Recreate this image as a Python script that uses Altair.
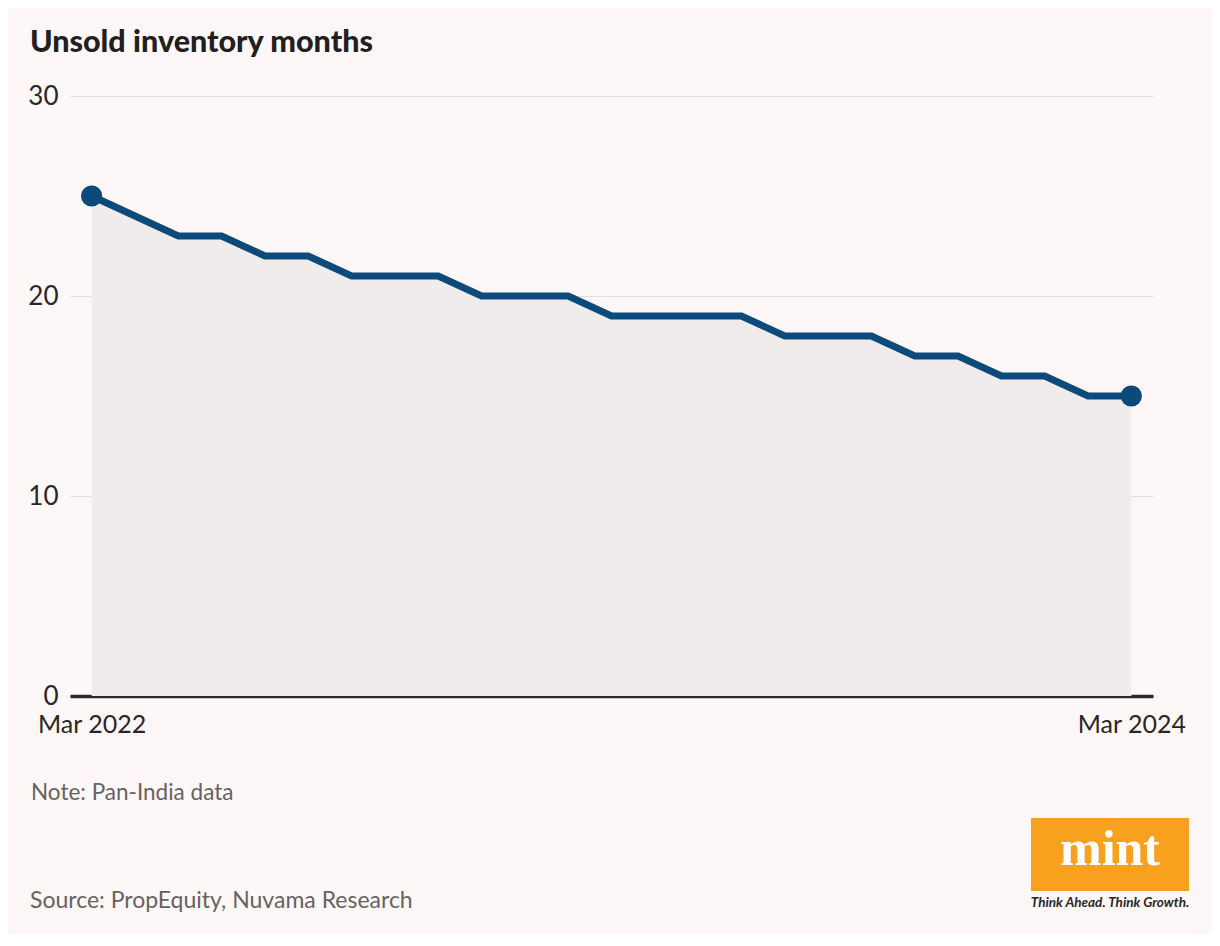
import altair as alt
import pandas as pd

months = ["Mar 2022", "Apr 2022", "May 2022", "Jun 2022", "Jul 2022", "Aug 2022",
          "Sep 2022", "Oct 2022", "Nov 2022", "Dec 2022", "Jan 2023", "Feb 2023",
          "Mar 2023", "Apr 2023", "May 2023", "Jun 2023", "Jul 2023", "Aug 2023",
          "Sep 2023", "Oct 2023", "Nov 2023", "Dec 2023", "Jan 2024", "Feb 2024",
          "Mar 2024"]
inventory = [25, 24, 23, 23, 22, 22, 21, 21, 21, 20, 20, 20, 19, 19, 19, 19,
             18, 18, 18, 17, 17, 16, 16, 15, 15]
tick_idx = [0, 24]
y_ticks = [0, 10, 20, 30]

title_text = "Unsold inventory months"
note_text = "Note: Pan-India data"
source_text = "Source: PropEquity, Nuvama Research"
logo_text = "mint"
tagline_text = "Think Ahead. Think Growth."

df = pd.DataFrame({"i": list(range(len(months))), "month": months, "v": inventory})
ends = df.iloc[[0, -1]]

FONT = "Lato"
label_expr = "datum.value == 0 ? '%s' : '%s'" % (months[0], months[-1])

x = alt.X("i:Q", scale=alt.Scale(domain=[-0.5, 24.5], nice=False, zero=False),
          axis=alt.Axis(values=tick_idx, labelExpr=label_expr, title=None, grid=False,
                        ticks=False, domain=True, domainColor="#2e2a2a", domainWidth=3.5,
                        labelFont=FONT, labelFontSize=25, labelColor="#2a2626",
                        labelPadding=16, labelFlush=False, labelAlign="center"))
y = alt.Y("v:Q", scale=alt.Scale(domain=[0, 30], nice=False),
          axis=alt.Axis(values=y_ticks, title=None, grid=True, gridColor="#e3dfde",
                        gridWidth=1.2, ticks=False, domain=False, labelFont=FONT,
                        labelFontSize=26, labelColor="#2a2626", labelPadding=12))

area = alt.Chart(df).mark_area(color="#efeceb", opacity=1).encode(x=x, y=y)
line = alt.Chart(df).mark_line(color="#0b4a7b", strokeWidth=7, strokeJoin="miter").encode(x=x, y=y)
pts = alt.Chart(ends).mark_circle(color="#0b4a7b", size=450, opacity=1).encode(x=x, y=y)

def txt(t, xv, yv, size, color, weight="normal", font=FONT, style="normal", align="left"):
    return alt.Chart(pd.DataFrame({"t": [t]})).mark_text(
        align=align, baseline="alphabetic", fontSize=size, color=color, fontWeight=weight,
        font=font, fontStyle=style).encode(text="t:N", x=alt.value(xv), y=alt.value(yv))

title = txt(title_text, -40, -44, 30.5, "#231f1f", weight=900)
note = txt(note_text, -39, 704, 22.5, "#666262")
source = txt(source_text, -40, 812, 23, "#666262")
logo_box = alt.Chart(pd.DataFrame({"a": [0]})).mark_rect(color="#f7a11e").encode(
    x=alt.value(961), x2=alt.value(1119), y=alt.value(722), y2=alt.value(795))
logo = txt(logo_text, 1040, 769, 50, "#ffffff", weight="bold", font="Liberation Serif", align="center")
tagline = txt(tagline_text, 1040, 811, 13.5, "#2a2626", weight="bold", style="italic", align="center")

chart = alt.layer(area, line, pts, title, note, source, logo_box, logo, tagline).properties(
    width=1083, height=600, background="#fdf8f7",
    padding={"left": 62, "top": 88, "right": 59, "bottom": 238},
    autosize=alt.AutoSizeParams(type="none")
).configure_view(stroke=None)

chart.save("out.html", embed_options={"renderer": "svg", "actions": False})
